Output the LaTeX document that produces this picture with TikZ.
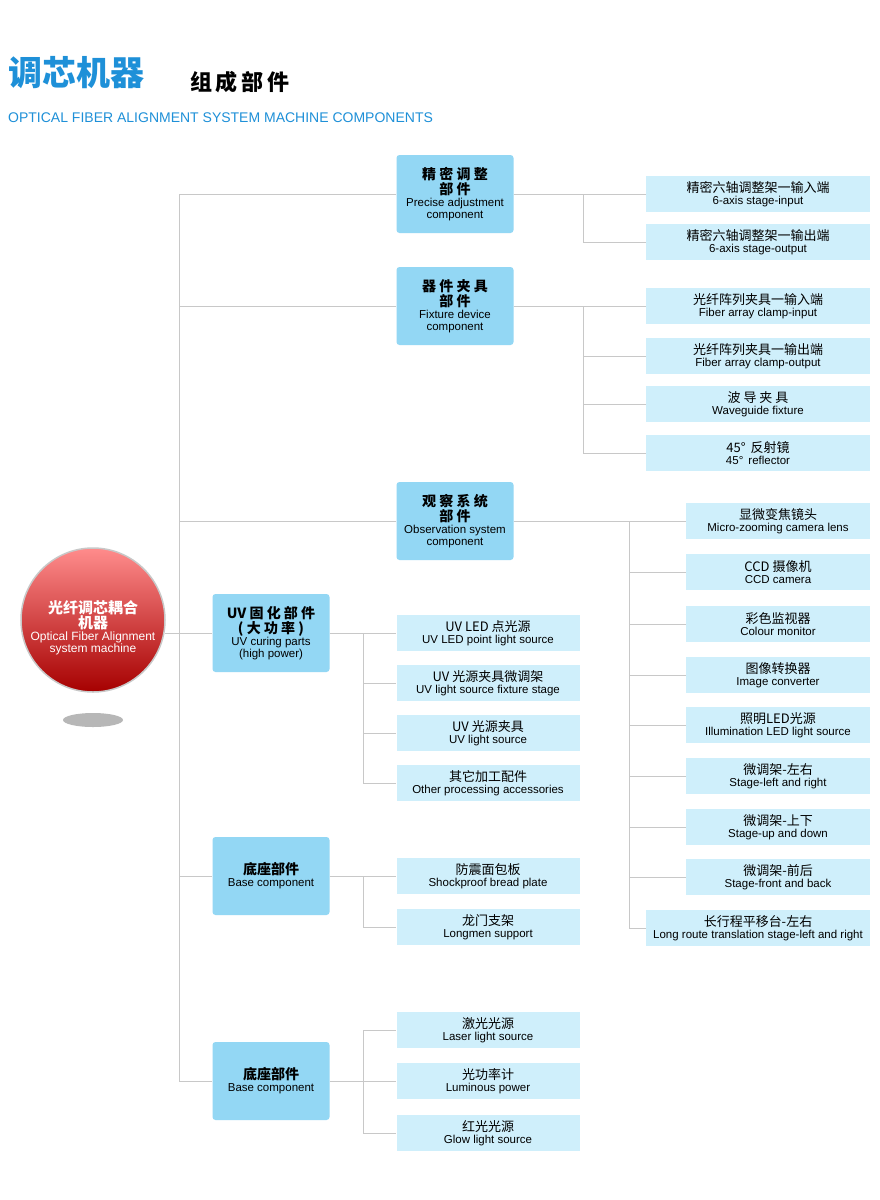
\documentclass[tikz,border=0pt]{standalone}
\usepackage{fontspec}
\setmainfont{Liberation Sans}
\newfontfamily\cjk{Noto Sans CJK SC}
\usetikzlibrary{calc}
\definecolor{titleblue}{HTML}{1E90D8}
\definecolor{boxblue}{HTML}{93D7F4}
\definecolor{leafblue}{HTML}{CFEFFB}
\definecolor{linegray}{HTML}{C8C8C8}
\tikzset{
  lvlbox/.style={fill=boxblue,rounded corners=3pt,minimum width=117pt,minimum height=78pt,
    align=center,inner sep=1pt},
  leafbox/.style={fill=leafblue,minimum height=36pt,align=center,inner sep=1pt},
  wideleaf/.style={leafbox,minimum width=224pt},
  midleaf/.style={leafbox,minimum width=184pt},
  shortleaf/.style={leafbox,minimum width=183pt},
  conn/.style={draw=linegray,line width=1pt}
}
\newcommand{\zh}[1]{{\cjk\fontsize{13}{15}\selectfont #1}}
\newcommand{\zhb}[1]{{\cjk\bfseries\fontsize{14}{17}\selectfont #1}}
\newcommand{\en}[1]{{\fontsize{11.5}{11}\selectfont #1}}
\newcommand{\rootzh}[1]{{\cjk\bfseries\fontsize{15}{19}\selectfont #1}}
\newcommand{\rooten}[1]{{\fontsize{12}{15}\selectfont #1}}
\begin{document}
\begin{tikzpicture}[x=1pt,y=-1pt]
	\useasboundingbox[fill=white] (0,0) rectangle (880,1200);
	
	% TITLE
	\node[anchor=west,text=titleblue,inner sep=0] (tzh) at (8,73) {\cjk\bfseries\fontsize{34}{36}\selectfont 调芯机器};
	\node[anchor=west,inner sep=0] (tsub) at (190,82) {\cjk\bfseries\fontsize{22}{24}\selectfont 组\,成\,部\,件};
	\node[anchor=west,text=titleblue,inner sep=0] (ten) at (8,118) {\fontsize{14}{16}\selectfont OPTICAL FIBER ALIGNMENT SYSTEM MACHINE COMPONENTS};
	
	% ROOT
	\fill[gray!70,opacity=0.8] (93,720) ellipse (30 and 7);
	\draw[linegray,line width=1.5pt,top color=red!45!white,bottom color=red!65!black] (93,620) circle (72);
	\node[text=white,align=center] (root) at (93,628) {\rootzh{光纤调芯耦合}\\ \rootzh{机器}\\ \rooten{Optical Fiber Alignment}\\ \rooten{system machine}};
	\coordinate (trunk) at (179,0);
	
	% LEVEL ONE
	\node[lvlbox] (A) at (455,194) {\zhb{精 密 调 整}\\ \zhb{部 件}\\ \en{Precise adjustment}\\ \en{component}};
	\node[lvlbox] (B) at (455,306) {\zhb{器 件 夹 具}\\ \zhb{部 件}\\ \en{Fixture device}\\ \en{component}};
	\node[lvlbox] (C) at (455,521) {\zhb{观 察 系 统}\\ \zhb{部 件}\\ \en{Observation system}\\ \en{component}};
	\node[lvlbox] (D) at (271,633) {\zhb{UV 固 化 部 件}\\ \zhb{( 大 功 率 )}\\ \en{UV curing parts}\\ \en{(high power)}};
	\node[lvlbox] (E) at (271,876) {\zhb{底座部件}\\ \en{Base component}};
	\node[lvlbox] (F) at (271,1081) {\zhb{底座部件}\\ \en{Base component}};
	
	% LEAVES
	\node[wideleaf] (a1) at (758,194) {\zh{精密六轴调整架一输入端}\\ \en{6-axis stage-input}};
	\node[wideleaf] (a2) at (758,242) {\zh{精密六轴调整架一输出端}\\ \en{6-axis stage-output}};
	
	\node[wideleaf] (b1) at (758,306) {\zh{光纤阵列夹具一输入端}\\ \en{Fiber array clamp-input}};
	\node[wideleaf] (b2) at (758,356) {\zh{光纤阵列夹具一输出端}\\ \en{Fiber array clamp-output}};
	\node[wideleaf] (b3) at (758,404) {\zh{波 导 夹 具}\\ \en{Waveguide fixture}};
	\node[wideleaf] (b4) at (758,453) {\zh{45°\, 反射镜}\\ \en{45°\, reflector}};
	
	\node[midleaf] (c1) at (778,521) {\zh{显微变焦镜头}\\ \en{Micro-zooming camera lens}};
	\node[midleaf] (c2) at (778,572) {\zh{CCD 摄像机}\\ \en{CCD camera}};
	\node[midleaf] (c3) at (778,624) {\zh{彩色监视器}\\ \en{Colour monitor}};
	\node[midleaf] (c4) at (778,675) {\zh{图像转换器}\\ \en{Image converter}};
	\node[midleaf] (c5) at (778,725) {\zh{照明LED光源}\\ \en{Illumination LED light source}};
	\node[midleaf] (c6) at (778,776) {\zh{微调架-左右}\\ \en{Stage-left and right}};
	\node[midleaf] (c7) at (778,827) {\zh{微调架-上下}\\ \en{Stage-up and down}};
	\node[midleaf] (c8) at (778,877) {\zh{微调架-前后}\\ \en{Stage-front and back}};
	\node[wideleaf] (c9) at (758,928) {\zh{长行程平移台-左右}\\ \en{Long route translation stage-left and right}};
	
	\node[shortleaf] (d1) at (488,633) {\zh{UV LED 点光源}\\ \en{UV LED point light source}};
	\node[shortleaf] (d2) at (488,683) {\zh{UV 光源夹具微调架}\\ \en{UV light source fixture stage}};
	\node[shortleaf] (d3) at (488,733) {\zh{UV 光源夹具}\\ \en{UV light source}};
	\node[shortleaf] (d4) at (488,783) {\zh{其它加工配件}\\ \en{Other processing accessories}};
	
	\node[shortleaf] (e1) at (488,876) {\zh{防震面包板}\\ \en{Shockproof bread plate}};
	\node[shortleaf] (e2) at (488,927) {\zh{龙门支架}\\ \en{Longmen support}};
	
	\node[shortleaf] (f1) at (488,1030) {\zh{激光光源}\\ \en{Laser light source}};
	\node[shortleaf] (f2) at (488,1081) {\zh{光功率计}\\ \en{Luminous power}};
	\node[shortleaf] (f3) at (488,1133) {\zh{红光光源}\\ \en{Glow light source}};
	
	% CONNECTORS
	\coordinate (rootedge) at (165,0);
	\draw[conn] (A.west -| trunk) -- (F.west -| trunk);
	\draw[conn] (rootedge |- D.west) -- (D.west);
	\foreach \n in {A,B,C,E,F}
	\draw[conn] (\n.west -| trunk) -- (\n.west);
	
	\coordinate (brA) at (583,0);
	\coordinate (brC) at (629,0);
	\coordinate (brD) at (363,0);
	\draw[conn] (A.east) -- (a1.west);
	\draw[conn] (brA |- a1.west) |- (a2.west);
	\draw[conn] (B.east) -- (b1.west);
	\draw[conn] (brA |- b1.west) -- (brA |- b4.west);
	\foreach \n in {b2,b3,b4}
	\draw[conn] (brA |- \n.west) -- (\n.west);
	\draw[conn] (C.east) -- (c1.west);
	\draw[conn] (brC |- c1.west) -- (brC |- c9.west);
	\foreach \n in {c2,c3,c4,c5,c6,c7,c8,c9}
	\draw[conn] (brC |- \n.west) -- (\n.west);
	\draw[conn] (D.east) -- (d1.west);
	\draw[conn] (brD |- d1.west) -- (brD |- d4.west);
	\foreach \n in {d2,d3,d4}
	\draw[conn] (brD |- \n.west) -- (\n.west);
	\draw[conn] (E.east) -- (e1.west);
	\draw[conn] (brD |- e1.west) |- (e2.west);
	\draw[conn] (F.east) -- (f2.west);
	\draw[conn] (brD |- f1.west) -- (brD |- f3.west);
	\foreach \n in {f1,f3}
	\draw[conn] (brD |- \n.west) -- (\n.west);
\end{tikzpicture}
\end{document}
